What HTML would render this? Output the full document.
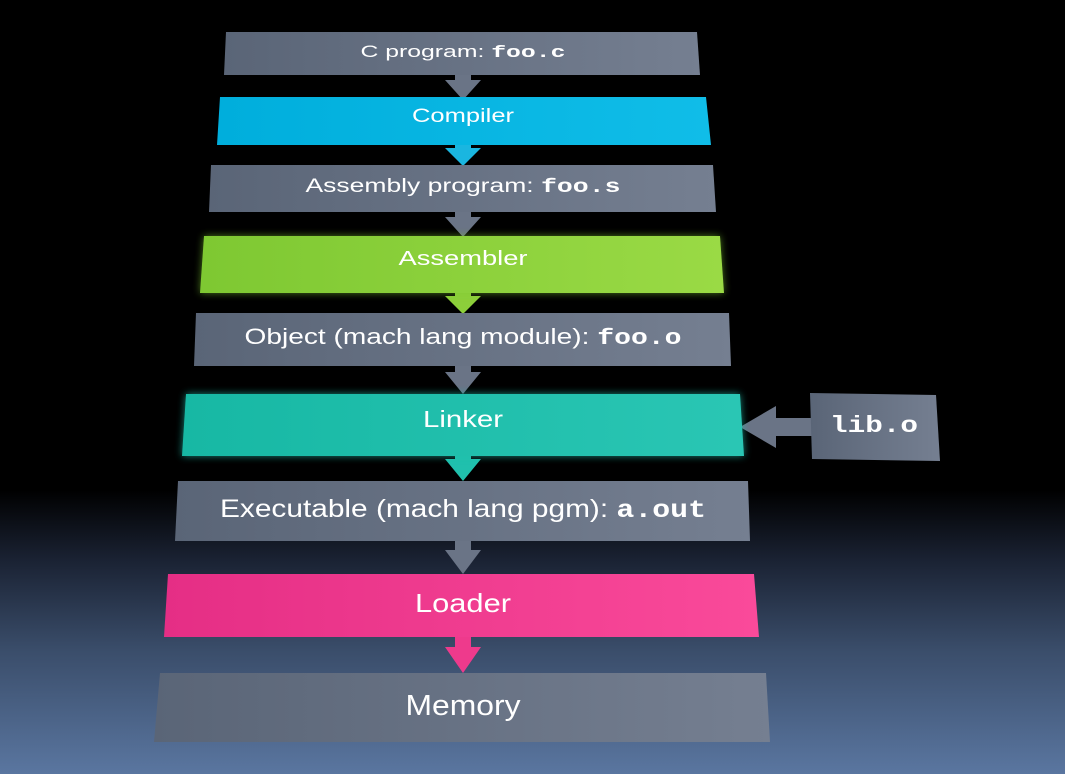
<!DOCTYPE html>
<html><head><meta charset="utf-8"><style>
html,body{margin:0;padding:0;width:1065px;height:774px;overflow:hidden;}
body{background:linear-gradient(to bottom,#000 0px,#000 490px,#1a2233 560px,#3a4d6a 650px,#5a76a0 774px);}
svg{position:absolute;left:0;top:0}
text{font-family:"Liberation Sans",sans-serif;fill:#fff;text-anchor:middle}
.m{font-family:"Liberation Mono",monospace;font-weight:bold}
</style></head><body>
<svg width="1065" height="774" viewBox="0 0 1065 774">
<defs>
<linearGradient id="g" x1="0" x2="1"><stop offset="0" stop-color="#5a6577"/><stop offset="1" stop-color="#757f91"/></linearGradient>
<linearGradient id="c" x1="0" x2="1"><stop offset="0" stop-color="#00aedc"/><stop offset="1" stop-color="#10bde8"/></linearGradient>
<linearGradient id="gr" x1="0" x2="1"><stop offset="0" stop-color="#7ec832"/><stop offset="1" stop-color="#9ada45"/></linearGradient>
<linearGradient id="t" x1="0" x2="1"><stop offset="0" stop-color="#17b8a4"/><stop offset="1" stop-color="#2ac6b4"/></linearGradient>
<linearGradient id="p" x1="0" x2="1"><stop offset="0" stop-color="#e52e85"/><stop offset="1" stop-color="#fa4a9a"/></linearGradient>
<filter id="glow" x="-10%" y="-30%" width="120%" height="160%"><feGaussianBlur stdDeviation="4"/></filter>
</defs>
<g fill="#6a7486">
<path d="M455 72h16v8h10l-18 20-18-20h10z"/>
<path d="M455 208h16v9h10l-18 20-18-20h10z"/>
<path d="M455 362h16v10h10l-18 22-18-22h10z"/>
<path d="M455 537h16v13h10l-18 24-18-24h10z"/>
<path d="M836 418h-60v-12l-36 21 36 21v-12h60z"/>
</g>
<path d="M455 140h16v8h10l-18 18-18-18h10z" fill="#1ab6e0"/>
<path d="M455 288h16v8h10l-18 18-18-18h10z" fill="#8ccf3a"/>
<path d="M455 450h16v9h10l-18 22-18-22h10z" fill="#20c0ad"/>
<path d="M455 630h16v17h10l-18 26-18-26h10z" fill="#ee3a8c"/>
<polygon points="226,32 697,32 700,75 224,75" fill="url(#g)"/>
<polygon points="220,97 706,97 711,145 217,145" fill="url(#c)"/>
<polygon points="211,165 713,165 716,212 209,212" fill="url(#g)"/>
<polygon points="204,236 720,236 724,293 200,293" fill="#7ec832" opacity=".6" filter="url(#glow)"/>
<polygon points="204,236 720,236 724,293 200,293" fill="url(#gr)"/>
<polygon points="196,313 729,313 731,366 194,366" fill="url(#g)"/>
<polygon points="186,394 740,394 744,456 182,456" fill="#20c0ad" opacity=".7" filter="url(#glow)"/>
<polygon points="186,394 740,394 744,456 182,456" fill="url(#t)"/>
<polygon points="178,481 748,481 750,541 175,541" fill="url(#g)"/>
<polygon points="168,574 754,574 759,637 164,637" fill="url(#p)"/>
<polygon points="160,673 766,673 770,742 154,742" fill="url(#g)"/>
<polygon points="810,393 936,395 940,461 812,459" fill="url(#g)"/>
<text x="463" y="57" font-size="17" textLength="205" lengthAdjust="spacingAndGlyphs">C program: <tspan class="m">foo.c</tspan></text>
<text x="463" y="122" font-size="19" textLength="102" lengthAdjust="spacingAndGlyphs">Compiler</text>
<text x="463" y="192" font-size="19" textLength="315" lengthAdjust="spacingAndGlyphs">Assembly program: <tspan class="m">foo.s</tspan></text>
<text x="463" y="265" font-size="20" textLength="129" lengthAdjust="spacingAndGlyphs">Assembler</text>
<text x="463" y="344" font-size="22" textLength="437" lengthAdjust="spacingAndGlyphs">Object (mach lang module): <tspan class="m">foo.o</tspan></text>
<text x="463" y="427" font-size="23" textLength="80" lengthAdjust="spacingAndGlyphs">Linker</text>
<text x="463" y="517" font-size="25" textLength="486" lengthAdjust="spacingAndGlyphs">Executable (mach lang pgm): <tspan class="m">a.out</tspan></text>
<text x="463" y="612" font-size="26" textLength="96" lengthAdjust="spacingAndGlyphs">Loader</text>
<text x="463" y="715" font-size="29" textLength="115" lengthAdjust="spacingAndGlyphs">Memory</text>
<text x="874" y="432" font-size="23" class="m" textLength="88" lengthAdjust="spacingAndGlyphs">lib.o</text>
</svg>
</body></html>
